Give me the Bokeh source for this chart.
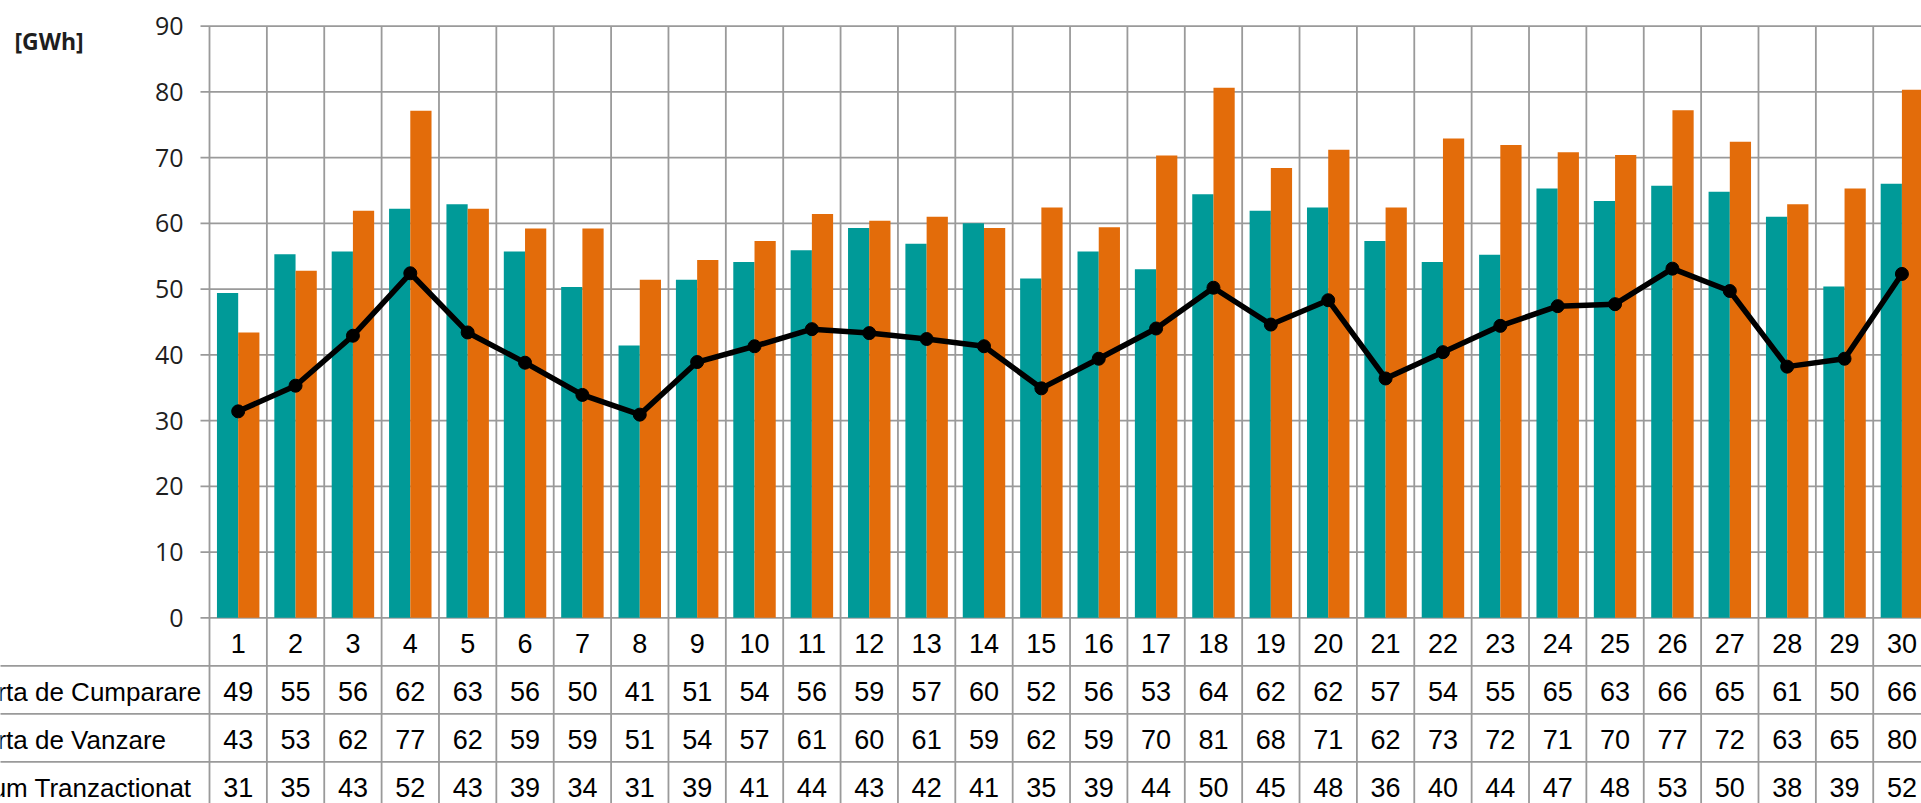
from bokeh.plotting import figure
from bokeh.models import Range1d
from bokeh.core.properties import value
from bokeh.embed import file_html
from bokeh.resources import INLINE

# ---------------- data ----------------
days = [str(d) for d in range(1, 31)]
cumparare = [49.4, 55.3, 55.7, 62.2, 62.9, 55.7, 50.3, 41.4, 51.4, 54.1,
             55.9, 59.3, 56.9, 60.0, 51.6, 55.7, 53.0, 64.4, 61.9, 62.4,
             57.3, 54.1, 55.2, 65.3, 63.4, 65.7, 64.8, 61.0, 50.4, 66.0]
vanzare = [43.4, 52.8, 61.9, 77.1, 62.2, 59.2, 59.2, 51.4, 54.4, 57.3,
           61.4, 60.4, 61.0, 59.3, 62.4, 59.4, 70.3, 80.6, 68.4, 71.2,
           62.4, 72.9, 71.9, 70.8, 70.4, 77.2, 72.4, 62.9, 65.3, 80.3]
volum = [31.4, 35.3, 42.9, 52.4, 43.4, 38.8, 33.9, 30.9, 38.9, 41.3,
         43.9, 43.3, 42.4, 41.3, 34.9, 39.4, 44.0, 50.2, 44.6, 48.3,
         36.4, 40.4, 44.4, 47.4, 47.7, 53.1, 49.7, 38.2, 39.4, 52.3]
row_labels = ["Oferta de Cumparare", "Oferta de Vanzare", "Volum Tranzactionat"]
y_ticks = [0, 10, 20, 30, 40, 50, 60, 70, 80, 90]
unit_label = "[GWh]"

# ---------------- layout ----------------
W, H = 1921, 803
PX_CAT = 57.37     # pixels per day column
PX_UNIT = 6.575    # pixels per GWh
X0_PX = 209        # canvas x of plot's left border
Y0_PX = 617.3      # canvas y of the zero line
ROW_PX = 48        # table row height

def dx(px):
    return px / PX_CAT

def dy(px):
    return px / PX_UNIT

x_start = 0.5 - dx(X0_PX)
x_end = x_start + dx(W)
y_end = dy(Y0_PX)
y_start = y_end - dy(H)

TEAL = "#009a98"
ORANGE = "#e36c0a"
GRID = "#9a9a9a"

p = figure(width=W, height=H, x_range=Range1d(x_start, x_end),
           y_range=Range1d(y_start, y_end), output_backend="svg",
           toolbar_location=None, min_border=0,
           x_axis_type=None, y_axis_type=None)
p.outline_line_color = None
p.background_fill_color = "white"
p.border_fill_color = "white"

idx = list(range(1, len(days) + 1))
n = len(days)

# horizontal gridlines (with tick stubs to the left)
p.segment(x0=[0.5 - dx(9)] * len(y_ticks), y0=y_ticks,
          x1=[x_end + 1] * len(y_ticks), y1=y_ticks,
          line_color=GRID, line_width=1.8)

# vertical column borders through chart and table
bounds = [k + 0.5 for k in range(0, n + 1)]
p.segment(x0=bounds, y0=[max(y_ticks)] * len(bounds),
          x1=bounds, y1=[y_start - 5] * len(bounds),
          line_color=GRID, line_width=1.8)

# table row lines
row_lines = [-dy(ROW_PX) * k for k in range(1, 5)]
p.segment(x0=[x_start - 5] * 4, y0=row_lines, x1=[x_end + 5] * 4, y1=row_lines,
          line_color=GRID, line_width=1.8)

# bars
off = 0.185
bw = 0.37
p.vbar(x=[i - off for i in idx], top=cumparare, bottom=0, width=bw,
       fill_color=TEAL, line_color=None)
p.vbar(x=[i + off for i in idx], top=vanzare, bottom=0, width=bw,
       fill_color=ORANGE, line_color=None)

# volume line
p.line(idx, volum, line_color="black", line_width=5.5)
p.scatter(idx, volum, size=13, fill_color="black", line_color="black")

# y tick labels
p.text(x=[0.5 - dx(26)] * len(y_ticks), y=y_ticks, text=[str(t) for t in y_ticks],
       text_align="right", text_baseline="middle",
       text_font=value("Open Sans"), text_font_size="25px", text_color="#1e1e1e")

# unit label
p.text(x=[x_start + dx(14)], y=[max(y_ticks) - dy(15)], text=[unit_label],
       text_align="left", text_baseline="middle",
       text_font=value("Open Sans"), text_font_style="bold",
       text_font_size="23px", text_color="#1e1e1e")

# data table
TFONT = value("Liberation Sans")
NSIZE = "27px"   # numbers
LSIZE = "26px"   # row labels
hdr_y = -dy(ROW_PX / 2 + 2)
p.text(x=idx, y=[hdr_y] * n, text=days, text_align="center", text_baseline="middle",
       text_font=TFONT, text_font_size=NSIZE, text_color="black")

series = [cumparare, vanzare, volum]
for r, vals in enumerate(series):
    yc = -dy(ROW_PX * (r + 1) + ROW_PX / 2 + 2)
    p.text(x=idx, y=[yc] * n, text=[f"{round(v)}" for v in vals],
           text_align="center", text_baseline="middle",
           text_font=TFONT, text_font_size=NSIZE, text_color="black")
    p.text(x=[x_start + dx(14)], y=[yc], text=[row_labels[r]], x_offset=-59,
           text_align="left", text_baseline="middle",
           text_font=TFONT, text_font_size=LSIZE, text_color="black")

open("out.html", "w").write(file_html(p, INLINE))
